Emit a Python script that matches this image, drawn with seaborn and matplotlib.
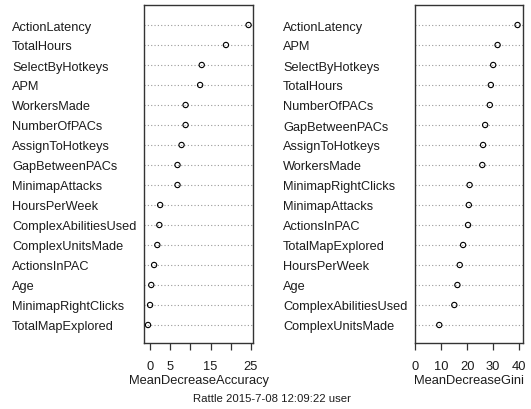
#!/usr/bin/env python3
"""Variable importance dot charts (random forest, two measures)."""

import matplotlib
matplotlib.use("Agg")
import matplotlib.pyplot as plt
import pandas as pd
import seaborn as sns

# Mean decrease in accuracy, sorted as in the chart (top to bottom)
acc_vars = [
    "ActionLatency", "TotalHours", "SelectByHotkeys", "APM", "WorkersMade",
    "NumberOfPACs", "AssignToHotkeys", "GapBetweenPACs", "MinimapAttacks",
    "HoursPerWeek", "ComplexAbilitiesUsed", "ComplexUnitsMade",
    "ActionsInPAC", "Age", "MinimapRightClicks", "TotalMapExplored",
]
acc_vals = [24.4, 18.8, 12.8, 12.4, 8.8, 8.8, 7.8, 6.8, 6.8,
            2.5, 2.3, 1.8, 1.0, 0.3, 0.0, -0.5]

# Mean decrease in Gini
gini_vars = [
    "ActionLatency", "APM", "SelectByHotkeys", "TotalHours", "NumberOfPACs",
    "GapBetweenPACs", "AssignToHotkeys", "WorkersMade", "MinimapRightClicks",
    "MinimapAttacks", "ActionsInPAC", "TotalMapExplored", "HoursPerWeek",
    "Age", "ComplexAbilitiesUsed", "ComplexUnitsMade",
]
gini_vals = [39.4, 31.7, 30.0, 29.1, 28.7, 26.9, 26.1, 25.8, 20.9,
             20.6, 20.3, 18.4, 17.1, 16.2, 15.0, 9.2]

acc_ticks = [0, 5, 10, 15, 20, 25]
acc_ticklabels = ["0", "5", "", "15", "", "25"]
gini_ticks = [0, 10, 20, 30, 40]
gini_ticklabels = ["0", "10", "20", "30", "40"]

sns.set_style("white")
plt.rcParams["font.family"] = ["Liberation Sans", "DejaVu Sans"]

TXT = "#1c1c1c"
fig = plt.figure(figsize=(5.31, 4.10), dpi=100)
ax1 = fig.add_axes([144 / 531, 1 - 344 / 410, 109 / 531, 338 / 410])
ax2 = fig.add_axes([415 / 531, 1 - 344 / 410, 108 / 531, 338 / 410])


def dot_panel(ax, names, vals, xlim, ticks, ticklabels, xlabel):
    df = pd.DataFrame({"var": names, "val": vals})
    sns.stripplot(data=df, x="val", y="var", order=names, jitter=False,
                  marker="o", size=3.8, facecolor="none", edgecolor="black",
                  linewidth=0.8, ax=ax, zorder=3)
    # dotted guide line for every variable
    ax.grid(False)
    ax.yaxis.grid(True, linestyle=(0, (1, 2)), color="#9a9a9a", linewidth=0.8)
    ax.set_axisbelow(True)
    ax.set_xlim(*xlim)
    ax.set_ylim(15.9, -1)
    ax.set_xticks(ticks)
    ax.set_xticklabels(ticklabels)
    ax.set_xlabel(xlabel, fontsize=9.3, color=TXT, labelpad=2)
    ax.set_ylabel("")
    for sp in ax.spines.values():
        sp.set_visible(True)
        sp.set_color("#333333")
        sp.set_linewidth(1.0)
    ax.tick_params(axis="x", bottom=True, length=5, width=0.9, direction="out",
                   color="#333333", pad=7, labelsize=9.3, labelcolor=TXT)
    ax.tick_params(axis="y", length=0, pad=95, labelsize=9.2, labelcolor=TXT)
    for lab in ax.get_yticklabels():
        lab.set_horizontalalignment("left")


dot_panel(ax1, acc_vars, acc_vals, (-1.5, 25.5), acc_ticks, acc_ticklabels,
          "MeanDecreaseAccuracy")
dot_panel(ax2, gini_vars, gini_vals, (-0.16, 41.5), gini_ticks, gini_ticklabels,
          "MeanDecreaseGini")

fig.text(272 / 531, 1 - 399 / 410, "Rattle 2015-7-08 12:09:22 user",
         ha="center", va="center", fontsize=8.2, color=TXT)

fig.savefig("out.png", dpi=100)
